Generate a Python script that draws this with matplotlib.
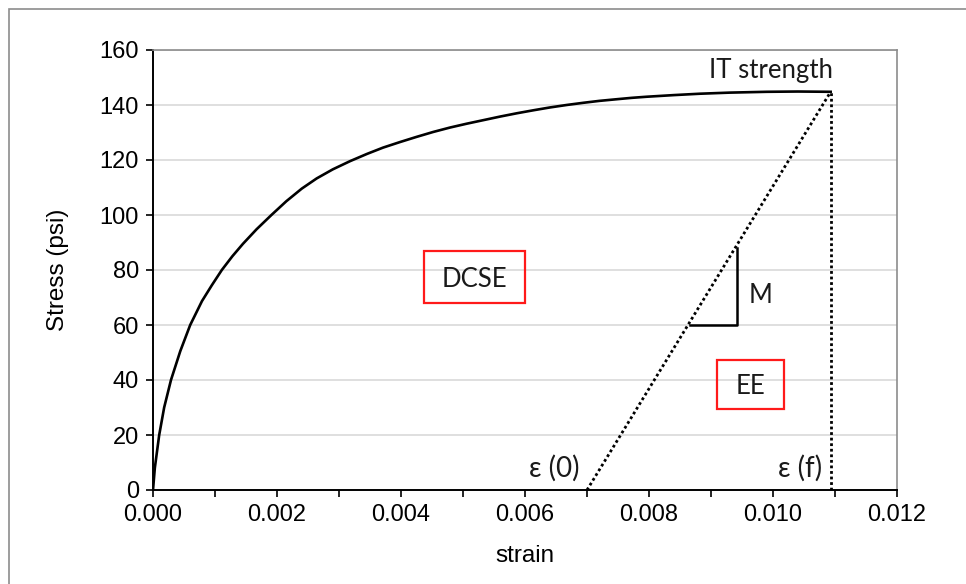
"""
Stress-strain curve for IT strength, with DCSE / EE areas marked.
Writes out.png.
"""

import matplotlib.pyplot as plt
from matplotlib.patches import Rectangle
from matplotlib.ticker import MultipleLocator

# ---- data ----
strain = [0.0, 0.00003, 0.0001, 0.00018, 0.00029, 0.00044, 0.0006, 0.00079,
          0.00095, 0.00111, 0.00128, 0.00145, 0.00167, 0.00191, 0.00215,
          0.0024, 0.00264, 0.0029, 0.00318, 0.00345, 0.00371, 0.00398,
          0.00425, 0.00452, 0.00479, 0.00506, 0.00533, 0.0056, 0.00587,
          0.00614, 0.0064, 0.00667, 0.00694, 0.0072, 0.00748, 0.00772,
          0.00796, 0.0084, 0.00882, 0.0093, 0.0099, 0.0104, 0.01093]
stress = [0.0, 8.1, 20.0, 30.0, 40.0, 50.5, 60.0, 68.7,
          74.5, 80.0, 85.0, 89.5, 94.8, 100.0, 105.0,
          109.6, 113.3, 116.6, 119.6, 122.2, 124.5, 126.5,
          128.4, 130.2, 131.8, 133.2, 134.5, 135.8, 137.0,
          138.1, 139.1, 140.0, 140.8, 141.5, 142.1, 142.6,
          143.0, 143.6, 144.1, 144.5, 144.8, 144.9, 144.8]

eps_0 = 0.0070        # start of unloading line
eps_f = 0.01093       # strain at IT strength
it_strength = 144.8   # psi

# slope marker (M)
m_x = [0.00866, 0.00942, 0.00942]
m_y = [60, 60, 88]

# red boxes: (strain_lo, strain_hi, stress_lo, stress_hi)
dcse_box = (0.00437, 0.0060, 68.0, 86.9)
ee_box = (0.00909, 0.01018, 29.5, 47.3)

y_ticks = [0, 20, 40, 60, 80, 100, 120, 140, 160]
x_ticks = [0.000, 0.002, 0.004, 0.006, 0.008, 0.010, 0.012]

BLACK = "#000000"
GRAY = "#8c8c8c"
GRID = "#d9d9d9"
RED = "#ff1a1a"
TICK_FONT = "Liberation Sans"
NOTE_FONT = ["Lato", "DejaVu Sans"]


def main():
    fig = plt.figure(figsize=(9.66, 5.84), dpi=100)
    fig.patch.set_facecolor("white")
    ax = fig.add_axes([153 / 966, 1 - 490 / 584, 744 / 966, 440 / 584])

    # outer frame (only left/top visible in the reference)
    fig.add_artist(Rectangle((9 / 966, -0.1), 1.2, 1.1 - 9 / 584,
                             transform=fig.transFigure, fill=False,
                             edgecolor=GRAY, linewidth=1.2))

    ax.plot(strain, stress, color=BLACK, linewidth=1.9, zorder=4,
            solid_joinstyle="round")

    # unloading line and vertical at failure strain
    dots = (0, (1, 1))
    ax.plot([eps_0, eps_f], [0, it_strength], color=BLACK,
            linestyle=dots, linewidth=2.0, zorder=3)
    ax.plot([eps_f, eps_f], [0, it_strength], color=BLACK,
            linestyle=dots, linewidth=2.0, zorder=3)

    ax.plot(m_x, m_y, color=BLACK, linewidth=1.8, zorder=3)

    for lo_x, hi_x, lo_y, hi_y in (dcse_box, ee_box):
        ax.add_patch(Rectangle((lo_x, lo_y), hi_x - lo_x, hi_y - lo_y,
                               fill=False, edgecolor=RED, linewidth=1.6,
                               zorder=5))

    note = dict(family=NOTE_FONT, fontsize=18.5, color="#1a1a1a", zorder=6)
    ax.text((dcse_box[0] + dcse_box[1]) / 2, (dcse_box[2] + dcse_box[3]) / 2,
            "DCSE", ha="center", va="center_baseline", **note)
    ax.text((ee_box[0] + ee_box[1]) / 2, (ee_box[2] + ee_box[3]) / 2,
            "EE", ha="center", va="center_baseline", **note)
    ax.text(0.00961, 71.6, "M", ha="left", va="center_baseline", **note)
    ax.text(0.01097, 148.0, "IT strength", ha="right", va="bottom", **note)
    eps_note = dict(note, fontsize=20)
    ax.text(0.00688, 8.7, "ε (0)", ha="right", va="center_baseline", **eps_note)
    ax.text(0.01079, 8.7, "ε (f)", ha="right", va="center_baseline", **eps_note)

    # axes styling
    ax.set_xlim(0, 0.012)
    ax.set_ylim(0, 160)
    ax.set_xticks(x_ticks)
    ax.set_xticklabels([f"{v:.3f}" for v in x_ticks])
    ax.xaxis.set_minor_locator(MultipleLocator(0.001))
    ax.set_yticks(y_ticks)
    ax.yaxis.grid(True, color=GRID, linewidth=1.2)
    ax.set_axisbelow(True)

    ax.tick_params(axis="both", which="both", direction="out", length=5,
                   width=1.2, color=BLACK, labelsize=17, pad=5)
    ax.tick_params(axis="x", which="both", top=False)
    ax.tick_params(axis="y", right=False)
    for lab in ax.get_xticklabels() + ax.get_yticklabels():
        lab.set_family(TICK_FONT)

    ax.spines["left"].set_color(BLACK)
    ax.spines["bottom"].set_color(BLACK)
    ax.spines["left"].set_linewidth(1.4)
    ax.spines["bottom"].set_linewidth(1.4)
    ax.spines["top"].set_color(GRAY)
    ax.spines["right"].set_color(GRAY)
    ax.spines["top"].set_linewidth(1.2)
    ax.spines["right"].set_linewidth(1.2)

    ax.set_xlabel("strain", family=TICK_FONT, fontsize=17.5, labelpad=14)
    ax.set_ylabel("Stress (psi)", family=TICK_FONT, fontsize=17.5, labelpad=22)

    fig.savefig("out.png", dpi=100, facecolor="white")


if __name__ == "__main__":
    main()
